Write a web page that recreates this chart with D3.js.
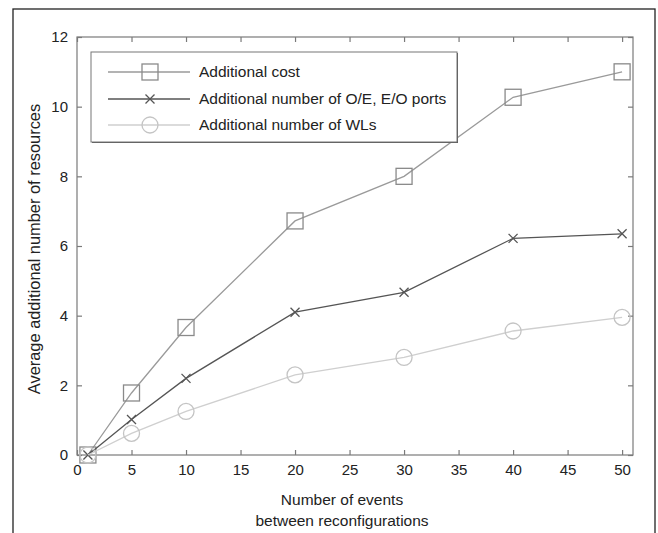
<!DOCTYPE html>
<html><head><meta charset="utf-8">
<script src="https://cdn.jsdelivr.net/npm/d3@7"></script>
<style>body{margin:0;background:#fff}svg text{font-family:"Liberation Sans",Arial,sans-serif}</style>
</head><body><svg id="c" width="658" height="533"></svg>
<script>
const xs = [1, 5, 10, 20, 30, 40, 50];
const costVals = [0, 1.78, 3.66, 6.72, 8.0, 10.27, 11.0];
const portVals = [0, 1.02, 2.2, 4.1, 4.67, 6.22, 6.35];
const wlVals = [0, 0.62, 1.25, 2.3, 2.8, 3.56, 3.95];
const xTicks = [0,5,10,15,20,25,30,35,40,45,50];
const yTicks = [0,2,4,6,8,10,12];
const seriesNames = ["Additional cost","Additional number of O/E, E/O ports","Additional number of WLs"];

const svg = d3.select("#c");
const L=77,R=633,T=37,B=455;
const x = d3.scaleLinear().domain([0,51]).range([L,R]);
const y = d3.scaleLinear().domain([0,12]).range([B,T]);
const axCol="#7a7a7a";

svg.append("rect").attr("x",13).attr("y",9).attr("width",642).attr("height",540)
  .attr("fill","none").attr("stroke","#222").attr("stroke-width",1.3);

svg.append("rect").attr("x",L).attr("y",T).attr("width",R-L).attr("height",B-T)
  .attr("fill","none").attr("stroke",axCol).attr("stroke-width",1.2);

const xa = svg.append("g").attr("transform",`translate(0,${B})`)
  .call(d3.axisBottom(x).tickValues(xTicks).tickSize(-5).tickPadding(9).tickFormat(d3.format("d")));
const xa2 = svg.append("g").attr("transform",`translate(0,${T})`)
  .call(d3.axisTop(x).tickValues(xTicks).tickSize(-5).tickFormat(""));
const ya = svg.append("g").attr("transform",`translate(${L},0)`)
  .call(d3.axisLeft(y).tickValues(yTicks).tickSize(-5).tickPadding(9));
const ya2 = svg.append("g").attr("transform",`translate(${R},0)`)
  .call(d3.axisRight(y).tickValues(yTicks).tickSize(-5).tickFormat(""));
[xa,xa2,ya,ya2].forEach(g=>{
  g.select(".domain").remove();
  g.selectAll("line").attr("stroke",axCol).attr("stroke-width",1.2);
  g.selectAll("text").attr("font-size",15).attr("fill","#222").attr("font-family","Liberation Sans, Arial, sans-serif");
});

const line = d3.line().x((d,i)=>x(xs[i])).y(d=>y(d));
const styles = [
  {vals:costVals,col:"#9a9a9a",mcol:"#8a8a8a",m:"sq"},
  {vals:portVals,col:"#555",mcol:"#555",m:"x"},
  {vals:wlVals,col:"#cfcfcf",mcol:"#c4c4c4",m:"ci"}
];
function marker(g,type,cx,cy,col){
  if(type==="sq") g.append("rect").attr("x",cx-8).attr("y",cy-8).attr("width",16).attr("height",16)
    .attr("fill","none").attr("stroke",col).attr("stroke-width",1.3);
  else if(type==="x") g.append("path").attr("d",`M${cx-4.5},${cy-4.5}L${cx+4.5},${cy+4.5}M${cx-4.5},${cy+4.5}L${cx+4.5},${cy-4.5}`)
    .attr("stroke",col).attr("stroke-width",1.3);
  else g.append("circle").attr("cx",cx).attr("cy",cy).attr("r",8)
    .attr("fill","none").attr("stroke",col).attr("stroke-width",1.3);
}
styles.forEach(s=>{
  svg.append("path").datum(s.vals).attr("d",line).attr("fill","none").attr("stroke",s.col).attr("stroke-width",1.3);
  const g=svg.append("g");
  s.vals.forEach((v,i)=>marker(g,s.m,x(xs[i]),y(v),s.mcol));
});

const lg = svg.append("g");
lg.append("rect").attr("x",92).attr("y",53).attr("width",366).attr("height",90).attr("fill","#555");
lg.append("rect").attr("x",91).attr("y",52).attr("width",366).attr("height",90).attr("fill","#fff").attr("stroke","#777").attr("stroke-width",1);
const rowsY=[72,99,125];
styles.forEach((s,i)=>{
  lg.append("line").attr("x1",108).attr("x2",190).attr("y1",rowsY[i]).attr("y2",rowsY[i]).attr("stroke",s.col).attr("stroke-width",1.3);
  marker(lg,s.m,150,rowsY[i],s.mcol);
  lg.append("text").attr("x",199).attr("y",rowsY[i]).attr("dy","0.35em").attr("font-size",15.5).attr("fill","#222").text(seriesNames[i]);
});

svg.append("text").attr("transform","translate(40,249) rotate(-90)").attr("text-anchor","middle")
  .attr("font-size",16.4).attr("fill","#222").text("Average additional number of resources");
svg.append("text").attr("x",342).attr("y",505).attr("text-anchor","middle").attr("font-size",15.5).attr("fill","#222").text("Number of events");
svg.append("text").attr("x",342).attr("y",526).attr("text-anchor","middle").attr("font-size",15.5).attr("fill","#222").text("between reconfigurations");
</script></body></html>
